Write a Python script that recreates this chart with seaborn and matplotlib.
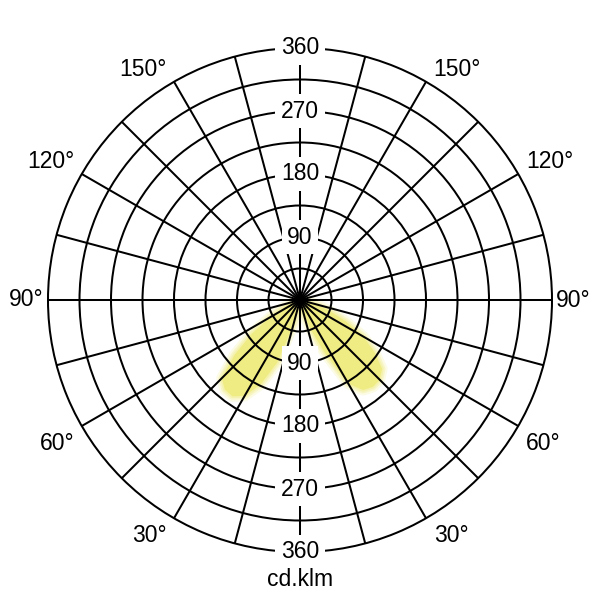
import numpy as np
import matplotlib
matplotlib.use("Agg")
import matplotlib.pyplot as plt
import seaborn as sns
import pandas as pd

# ---- data (cd/klm) ----
gamma_deg = [0, 5, 10, 15, 20, 25, 30, 35, 40, 45, 50, 55, 60, 65, 70, 75, 80, 85, 90]
c0_right = [0, 3, 8, 22, 45, 82, 138, 157, 162, 161, 153, 130, 104, 72, 45, 24, 11, 3, 0]
c180_left = [0, 3, 12, 36, 95, 133, 158, 168, 167, 158, 122, 84, 50, 25, 11, 4, 1, 0, 0]
ring_values = [45, 90, 135, 180, 225, 270, 315]
ring_labels = ["90", "180", "270", "360"]
ring_label_values = [90, 180, 270, 360]
angle_labels = ["30°", "60°", "90°", "120°", "150°"]
angle_label_values = [30, 60, 90, 120, 150]
unit_label = "cd.klm"
r_max = 360

sns.set_style("white")
plt.rcParams["font.family"] = ["Liberation Sans", "DejaVu Sans"]
plt.rcParams["text.color"] = "black"

fig = plt.figure(figsize=(6, 6), dpi=100)
ax = fig.add_axes([0.08, 0.08, 0.84, 0.84], projection="polar")
ax.set_theta_zero_location("S")
ax.set_theta_direction(1)
ax.set_ylim(0, r_max)

yellow = "#f0ec84"
g = np.radians(np.array(gamma_deg, dtype=float))
df = pd.concat([
    pd.DataFrame({"theta": g, "r": c0_right, "side": "C0"}),
    pd.DataFrame({"theta": -g, "r": c180_left, "side": "C180"}),
])
for side, sub in df.groupby("side"):
    ax.fill(sub["theta"].values, sub["r"].values, color=yellow, lw=0, zorder=1)
    for lw, a in [(8, 0.2), (5, 0.3), (2.5, 0.4)]:
        sns.lineplot(x=sub["theta"].values, y=sub["r"].values, sort=False, ax=ax,
                     color=yellow, lw=lw, alpha=a, solid_joinstyle="round",
                     solid_capstyle="round", zorder=1)

ax.set_rgrids(ring_values, labels=[""] * len(ring_values))
ax.set_thetagrids(np.arange(0, 360, 15), labels=[""] * 24)
ax.set_axisbelow(False)
ax.grid(True, color="black", lw=1.45)
ax.spines["polar"].set_color("black")
ax.spines["polar"].set_linewidth(1.45)
ax.tick_params(pad=0)

fs = 16.5
for val, lab in zip(ring_label_values, ring_labels):
    for th in (0.0, np.pi):
        ax.text(th, val, lab, ha="center", va="center", fontsize=fs, zorder=5,
                color="black",
                bbox=dict(boxstyle="square,pad=0.25", fc="white", ec="none"))

for val, lab in zip(angle_label_values, angle_labels):
    for sgn in (1, -1):
        th = np.radians(sgn * val)
        ha = "left" if sgn == 1 else "right"
        dx = 5.5 * sgn
        if val == 90:
            va, dy, dx = "center", 0, 3 * sgn
        elif val > 90:
            va, dy = "baseline", 4.0
        else:
            va, dy = "top", -4.5
        ax.annotate(lab, xy=(th, r_max), xytext=(dx, dy), textcoords="offset points",
                    ha=ha, va=va, fontsize=fs, color="black", annotation_clip=False)

fig.text(0.5, 1 - 580 / 600, unit_label, ha="center", va="center", fontsize=fs,
         color="black")

fig.savefig("out.png", dpi=100, facecolor="white")
